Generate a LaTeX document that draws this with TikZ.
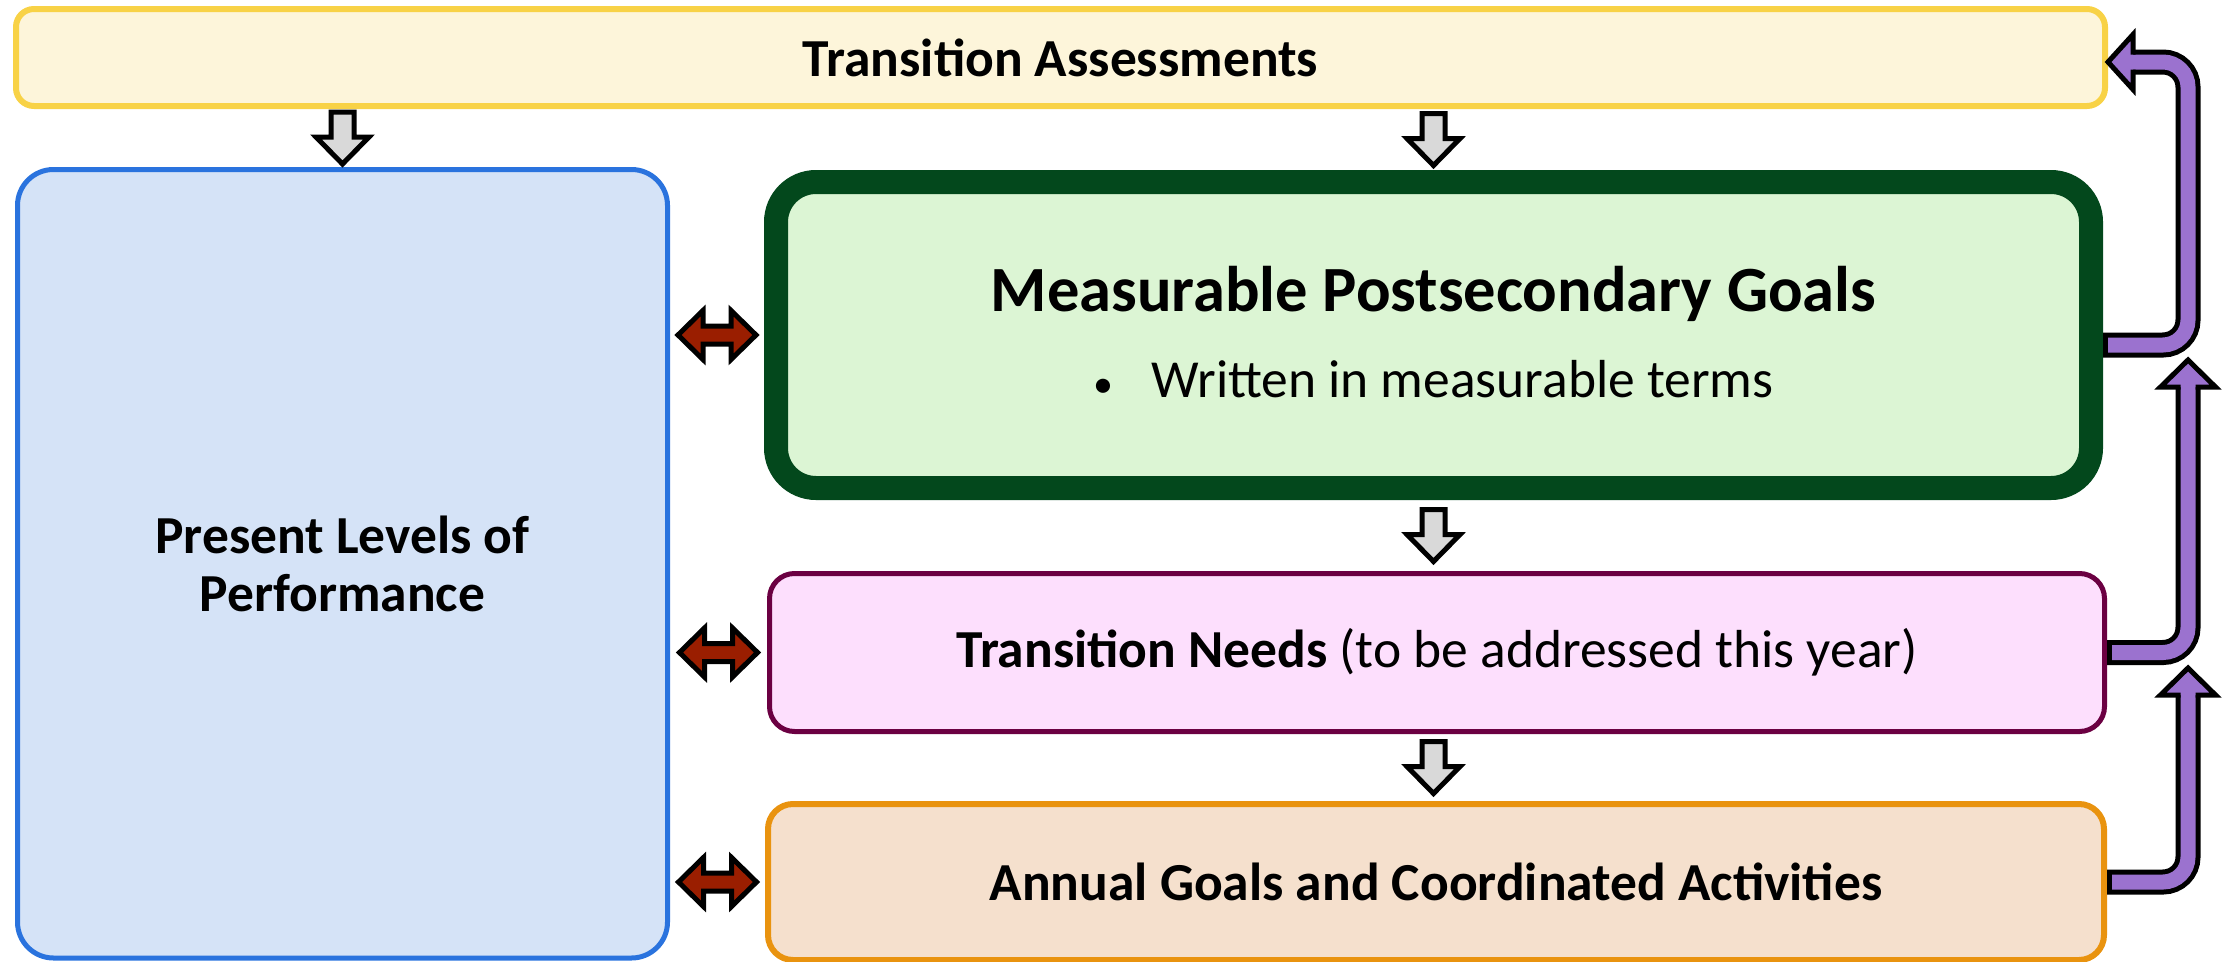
\documentclass[tikz,border=0pt]{standalone}
\usepackage{fontspec}
\setmainfont{Carlito}
\usetikzlibrary{calc}

\definecolor{taFill}{HTML}{FDF5DA}
\definecolor{taLine}{HTML}{F8D246}
\definecolor{plpFill}{HTML}{D5E3F7}
\definecolor{plpLine}{HTML}{2A73DE}
\definecolor{mpgFill}{HTML}{DCF5D4}
\definecolor{mpgLine}{HTML}{03481C}
\definecolor{tnFill}{HTML}{FDDFFD}
\definecolor{tnLine}{HTML}{6B0042}
\definecolor{agFill}{HTML}{F5E0CD}
\definecolor{agLine}{HTML}{E9930F}
\definecolor{arrGray}{HTML}{D9D9D9}
\definecolor{arrRed}{HTML}{9A1E00}
\definecolor{arrPurple}{HTML}{9B72CF}

\begin{document}
\begin{tikzpicture}[x=1pt,y=-1pt,
  box/.style={draw, rounded corners=#1, align=center, inner sep=0pt},
  txt/.style={font=\fontsize{53.5}{58}\selectfont},
  btxt/.style={font=\fontsize{53.5}{58}\selectfont\bfseries},
  downblk/.style={draw=black, fill=arrGray, line width=5pt, line join=miter,
    to path={($(\tikztostart)!.5!(\tikztotarget)+(-11.5,-26)$) -- ++(23,0) -- ++(0,25) -- ++(15,0)
      -- ++(-26.5,27) -- ++(-26.5,-27) -- ++(15,0) -- cycle}},
  dblblk/.style={draw=black, fill=arrRed, line width=5pt, line join=miter,
    to path={($(\tikztostart)!.5!(\tikztotarget)+(-14,-9)$) -- ++(28,0) -- ++(0,-15.5) -- ++(25,24.5)
      -- ++(-25,24.5) -- ++(0,-15.5) -- ++(-28,0) -- ++(0,15.5) -- ++(-25,-24.5) -- ++(25,-24.5) -- cycle}},
  purpshaft/.style={draw=black, line width=25pt, rounded corners=25pt,
    postaction={draw=arrPurple, line width=15pt, shorten <=5pt}},
  pics/headleft/.style={code={\filldraw[fill=arrPurple, draw=black, line width=5pt, line join=miter]
    (0,-7.5) -- (0,-27.5) -- (-25,0) -- (0,27.5) -- (0,7.5);}},
  pics/headup/.style={code={\filldraw[fill=arrPurple, draw=black, line width=5pt, line join=miter]
    (-7.5,0) -- (-27.5,0) -- (0,-27) -- (27.5,0) -- (7.5,0);}},
]
\useasboundingbox (0,0) rectangle (2226,961);

\node[box=18pt, draw=taLine, fill=taFill, line width=6pt, minimum width=2089pt, minimum height=97pt, btxt] (ta) at (1060.5,57.5) {Transition Assessments};
\node[box=36pt, draw=plpLine, fill=plpFill, line width=5pt, minimum width=650pt, minimum height=788.5pt, btxt] (plp) at (342.5,563.75) {Present Levels of\\Performance};
\node[box=40pt, draw=mpgLine, fill=mpgFill, line width=24pt, minimum width=1315pt, minimum height=306pt] (mpg) at (1433.5,335) {};
\node[anchor=base, font=\fontsize{64.5}{70}\selectfont\bfseries] (mpgt) at ([yshift=24pt]mpg.center) {Measurable Postsecondary Goals};
\node[anchor=base, txt] (mpgb) at ([yshift=-62pt]mpg.center) {{\fontsize{40}{40}\selectfont•}\hspace{38pt}Written in measurable terms};
\node[box=25pt, draw=tnLine, fill=tnFill, line width=5pt, minimum width=1335pt, minimum height=158pt, txt] (tn) at (1437,652.5) {\textbf{Transition Needs} (to be addressed this year)};
\node[box=25pt, draw=agLine, fill=agFill, line width=6pt, minimum width=1336pt, minimum height=156pt, btxt] (agca) at (1436,882) {Annual Goals and Coordinated Activities};

\path[downblk] (ta.south -| plp.north) to (plp.north);
\path[downblk] (ta.south -| mpg.north) to (mpg.north);
\path[downblk] (mpg.south) to (mpg.south |- tn.north);
\path[downblk] (tn.south -| mpg.south) to (agca.north -| mpg.south);

\path[dblblk] (plp.east |- mpg.west) to (mpg.west);
\path[dblblk] (plp.east |- tn.west) to (tn.west);
\path[dblblk] (plp.east |- agca.west) to (agca.west);

\coordinate (h1) at (2133,62);
\coordinate (h2) at (2188,387);
\coordinate (h3) at (2188,695);
\draw[purpshaft] ([yshift=-10pt]mpg.east) -| ([xshift=55pt]h1) -- (h1);
\pic at (h1) {headleft};
\draw[purpshaft] (tn.east) -| (h2);
\pic at (h2) {headup};
\draw[purpshaft] (agca.east) -| (h3);
\pic at (h3) {headup};
\end{tikzpicture}
\end{document}
